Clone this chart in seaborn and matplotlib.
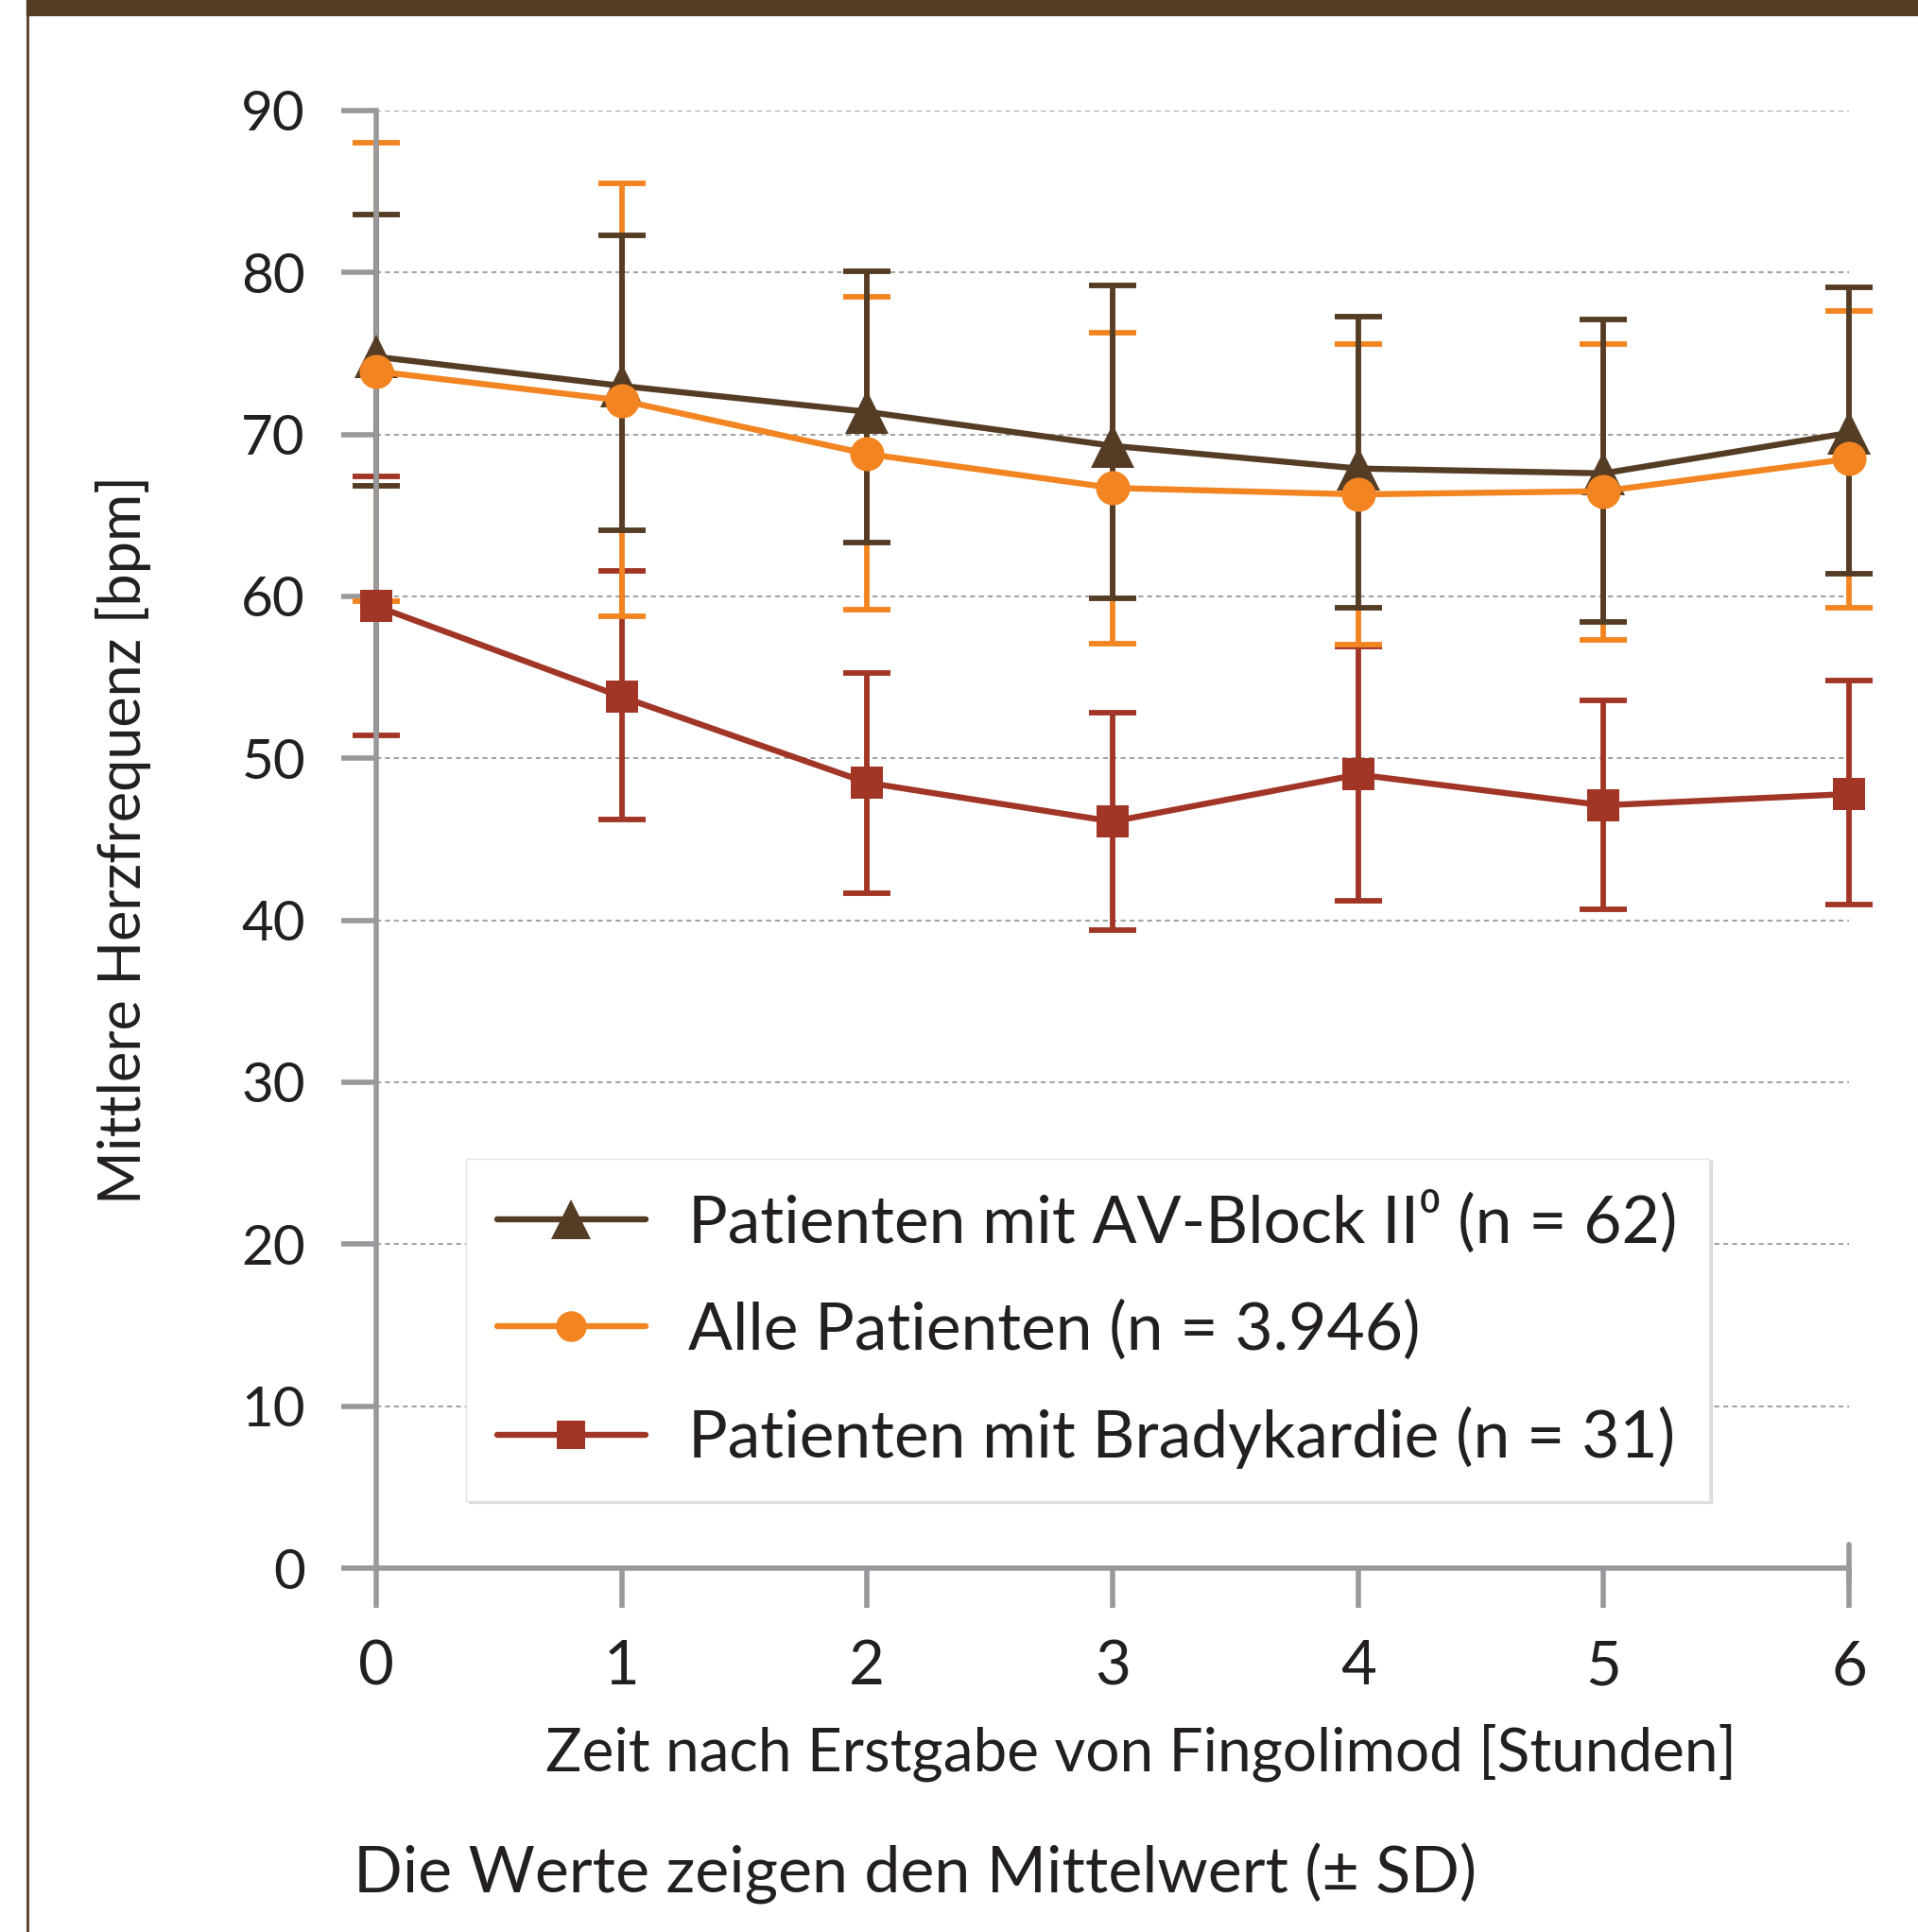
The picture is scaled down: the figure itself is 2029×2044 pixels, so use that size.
import numpy as np
import pandas as pd
import matplotlib
matplotlib.use("Agg")
import matplotlib.pyplot as plt
from matplotlib.patches import Rectangle
from matplotlib.lines import Line2D
import seaborn as sns

# hours after first dose
hours = [0, 1, 2, 3, 4, 5, 6]

av_mean = [74.8, 73.0, 71.4, 69.3, 67.9, 67.6, 70.1]
av_hi = [83.6, 82.3, 80.1, 79.2, 77.3, 77.1, 79.1]
av_lo = [66.8, 64.1, 63.3, 59.9, 59.3, 58.4, 61.4]

all_mean = [73.9, 72.1, 68.8, 66.7, 66.3, 66.5, 68.5]
all_hi = [88.0, 85.5, 78.5, 76.3, 75.6, 75.6, 77.6]
all_lo = [59.7, 58.8, 59.2, 57.1, 57.0, 57.3, 59.3]

br_mean = [59.4, 53.8, 48.5, 46.1, 49.0, 47.1, 47.8]
br_hi = [67.4, 61.6, 55.3, 52.8, 56.9, 53.6, 54.8]
br_lo = [51.4, 46.2, 41.7, 39.4, 41.2, 40.7, 41.0]

labels = ["Patienten mit AV-Block II\u2070 (n = 62)",
          "Alle Patienten (n = 3.946)",
          "Patienten mit Bradykardie (n = 31)"]
xlabel = "Zeit nach Erstgabe von Fingolimod [Stunden]"
ylabel = "Mittlere Herzfrequenz [bpm]"
note = "Die Werte zeigen den Mittelwert (\u00b1 SD)"

BROWN = "#553c25"
ORANGE = "#f28522"
RED = "#a13626"
GRAY = "#98999d"
TXT = "#231f20"

sns.set_style("white")
plt.rcParams["font.family"] = ["Lato", "DejaVu Sans"]
plt.rcParams["text.color"] = TXT

fig = plt.figure(figsize=(20.29, 20.44), dpi=100)
ax = fig.add_axes([398 / 2029, 1 - 1659 / 2044, 1558 / 2029, 1542 / 2044])

series = [
    (labels[2], br_mean, br_lo, br_hi, RED, "s", 24),
    (labels[1], all_mean, all_lo, all_hi, ORANGE, "o", 26),
    (labels[0], av_mean, av_lo, av_hi, BROWN, "^", 33),
]

# error bars first: red, orange, brown
for name, m, lo, hi, c, mk, ms in series:
    m = np.array(m)
    yerr = [m - np.array(lo), np.array(hi) - m]
    ax.errorbar(hours, m, yerr=yerr, fmt="none", ecolor=c, elinewidth=4.2,
                capsize=18, capthick=4.2, zorder=2, clip_on=False)

handles = {}
for name, m, lo, hi, c, mk, ms in [series[0], series[2], series[1]]:
    df = pd.DataFrame({"h": hours, "v": m})
    sns.lineplot(data=df, x="h", y="v", ax=ax, color=c, lw=4.6, marker=mk,
                 markersize=ms, markeredgewidth=0, zorder=3, clip_on=False)
    handles[name] = Line2D([], [], color=c, lw=4.6, marker=mk, markersize=ms * 0.9,
                           markeredgewidth=0)

ax.set_xlim(0, 6)
ax.set_ylim(0, 90)
ax.set_xticks(hours)
ax.set_yticks(range(0, 91, 10))

for s in ["top", "right"]:
    ax.spines[s].set_visible(False)
for s in ["left", "bottom"]:
    ax.spines[s].set_color(GRAY)
    ax.spines[s].set_linewidth(4)

ax.tick_params(axis="y", left=True, direction="out", length=27, width=4,
               color=GRAY, labelsize=42, pad=27, labelcolor=TXT)
ax.tick_params(axis="x", bottom=True, direction="out", length=30, width=4,
               color=GRAY, labelsize=47, pad=24, labelcolor=TXT)
ax.yaxis.grid(True, color="#a3a3a3", lw=1.5, ls=(0, (2.5, 2)))
ax.set_axisbelow(True)

# end mark at the last hour
ax.plot([hours[-1]] * 2, [-0.011, 0.016], transform=ax.get_xaxis_transform(),
        color=GRAY, lw=4, clip_on=False, zorder=1)

ax.set_xlabel(xlabel, fontsize=46, color=TXT)
ax.xaxis.label.set_va("center")
ax.xaxis.set_label_coords(0.519, -0.1265)
ax.set_ylabel(ylabel, fontsize=44, color=TXT)
ax.yaxis.label.set_va("center")
ax.yaxis.set_label_coords(-0.172, 0.5)

leg = ax.legend([handles[l] for l in labels], labels, loc="upper left",
                bbox_to_anchor=(0.061, 0.281), borderaxespad=0, fontsize=50,
                frameon=True, fancybox=False, framealpha=1, edgecolor="#e4e4e4",
                handlelength=2.25, handletextpad=0.66, labelspacing=0.7,
                borderpad=0.48, shadow={"color": "0.8", "alpha": 0.6})
leg.get_frame().set_linewidth(1)

fig.text(374 / 2029, 1 - 1982 / 2044, note, fontsize=49, ha="left", va="center")

# brown header bar and left rule
fig.patches.append(Rectangle((28 / 2029, 1 - 16 / 2044), 1, 16 / 2044,
                             transform=fig.transFigure, color=BROWN, zorder=0))
fig.lines.append(Line2D([29 / 2029] * 2, [0, 1], transform=fig.transFigure,
                        color=BROWN, lw=2))

fig.savefig("out.png", dpi=100, facecolor="white")
